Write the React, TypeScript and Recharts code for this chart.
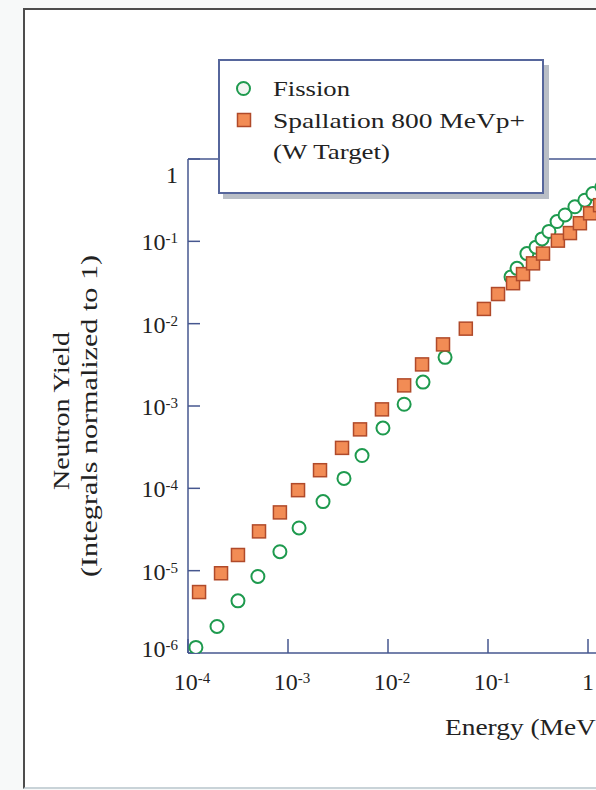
import { ScatterChart, Scatter, XAxis, YAxis } from 'recharts';

// values (energy in MeV, yield normalized)
const FISSION_E = [1.2e-4, 1.95e-4, 3.16e-4, 5.0e-4, 8.3e-4, 1.29e-3, 2.24e-3, 3.63e-3, 5.5e-3, 8.9e-3, 0.0145, 0.0224, 0.0372, 0.17, 0.195, 0.245, 0.302, 0.347, 0.407, 0.49, 0.59, 0.74, 0.93, 1.12, 1.38];
const FISSION_Y = [1.17e-6, 2.1e-6, 4.3e-6, 8.5e-6, 1.7e-5, 3.3e-5, 6.9e-5, 1.32e-4, 2.5e-4, 5.4e-4, 1.05e-3, 1.95e-3, 3.9e-3, 0.037, 0.047, 0.071, 0.085, 0.107, 0.132, 0.174, 0.209, 0.263, 0.316, 0.38, 0.457];
const SPALL_E = [1.29e-4, 2.14e-4, 3.16e-4, 5.13e-4, 8.3e-4, 1.26e-3, 2.09e-3, 3.47e-3, 5.25e-3, 8.7e-3, 0.0145, 0.0219, 0.0355, 0.06, 0.091, 0.126, 0.178, 0.224, 0.282, 0.355, 0.5, 0.66, 0.83, 1.05, 1.32];
const SPALL_Y = [5.5e-6, 9.3e-6, 1.55e-5, 3.0e-5, 5.1e-5, 9.5e-5, 1.66e-4, 3.1e-4, 5.2e-4, 9.1e-4, 1.78e-3, 3.2e-3, 5.6e-3, 8.7e-3, 0.0151, 0.0229, 0.031, 0.04, 0.054, 0.071, 0.102, 0.126, 0.166, 0.219, 0.275];

const X_TICKS = [1e-4, 1e-3, 1e-2, 1e-1, 1, 10, 100];
const Y_TICKS = [1e-6, 1e-5, 1e-4, 1e-3, 1e-2, 1e-1, 1];

const SERIES_NAMES = ['Fission', 'Spallation 800 MeVp+', '(W Target)'];
const X_TITLE = 'Energy (MeV)';
const Y_TITLE = ['Neutron Yield', '(Integrals normalized to 1)'];

const FONT = '"Liberation Serif", "Times New Roman", serif';
const AXIS = '#46578f';
const GREEN = '#1e9a4e';
const ORANGE = '#f28c55';
const ORANGE_EDGE = '#b04a2a';

const fission = FISSION_E.map((x, i) => ({ x, y: FISSION_Y[i] }));
const spallation = SPALL_E.map((x, i) => ({ x, y: SPALL_Y[i] }));

function YTick({ x, y, payload }: any) {
  const e = Math.round(Math.log10(payload.value));
  const dy = e === 0 ? 24 : e === -6 ? 4 : 9;
  return (
    <text x={x} y={y + dy} textAnchor="end" fontFamily={FONT} fontSize={24} fill="#222">
      {e === 0 ? '1' : (
        <>
          <tspan>10</tspan>
          <tspan fontSize={15} dy={-7}>{e}</tspan>
        </>
      )}
    </text>
  );
}

function XTick({ x, y, payload }: any) {
  const e = Math.round(Math.log10(payload.value));
  return (
    <text x={e === 0 ? x : x + 4} y={y + 16} textAnchor="middle" fontFamily={FONT} fontSize={24} fill="#222">
      {e === 0 ? '1' : (
        <>
          <tspan>10</tspan>
          <tspan fontSize={15} dy={-7}>{e}</tspan>
        </>
      )}
    </text>
  );
}

function YTitle({ viewBox }: any) {
  const cy = viewBox.y + viewBox.height / 2;
  const x1 = viewBox.x - 39;
  const x2 = viewBox.x - 11;
  return (
    <g fontFamily={FONT} fontSize={23.5} fill="#222">
      <text x={x1} y={cy + 5} transform={`rotate(-90, ${x1}, ${cy + 5})`} textAnchor="middle"
        textLength={158} lengthAdjust="spacingAndGlyphs">{Y_TITLE[0]}</text>
      <text x={x2} y={cy + 10} transform={`rotate(-90, ${x2}, ${cy + 10})`} textAnchor="middle"
        textLength={322} lengthAdjust="spacingAndGlyphs">{Y_TITLE[1]}</text>
    </g>
  );
}

function XTitle({ viewBox }: any) {
  return (
    <text x={viewBox.x + 257} y={viewBox.y + 82} fontFamily={FONT} fontSize={24} fill="#222"
      textLength={160} lengthAdjust="spacingAndGlyphs">{X_TITLE}</text>
  );
}

const circleShape = (p: any) => (
  <circle cx={p.cx} cy={p.cy} r={6.5} fill="#fff" stroke={GREEN} strokeWidth={2} />
);
const squareShape = (p: any) => (
  <rect x={p.cx - 6.5} y={p.cy - 6.5} width={13} height={13} fill={ORANGE} stroke={ORANGE_EDGE} strokeWidth={1.5} />
);

export default function App() {
  return (
    <div style={{ position: 'absolute', left: 0, top: 0, width: 596, height: 790, overflow: 'hidden', background: '#f7f9f9' }}>
      <div style={{
        position: 'absolute', left: 23, top: 8, width: 700, height: 777, background: '#fff',
        borderLeft: '2px solid #4d4d4d', borderTop: '2px solid #4d4d4d', borderBottom: '2px solid #c9d3d8',
      }} />
      <div style={{ position: 'absolute', left: 0, top: 0 }}>
        <ScatterChart width={900} height={790} margin={{ top: 149, right: 112, bottom: 77, left: 108 }}>
          <XAxis xAxisId="bottom" dataKey="x" type="number" scale="log" domain={[1e-4, 100]} ticks={X_TICKS}
            allowDataOverflow height={60} stroke={AXIS} strokeWidth={1.5} tickSize={-14} tickMargin={35}
            tick={<XTick />} label={{ content: (p: any) => <XTitle {...p} /> }} />
          <XAxis xAxisId="top" orientation="top" dataKey="x" type="number" scale="log" domain={[1e-4, 100]}
            ticks={X_TICKS} allowDataOverflow height={10} stroke={AXIS} strokeWidth={1.5} tickSize={-14} tick={false} />
          <YAxis dataKey="y" type="number" scale="log" domain={[1e-6, 1]} ticks={Y_TICKS} allowDataOverflow
            width={80} stroke={AXIS} strokeWidth={1.5} tickSize={-12} tickMargin={22}
            tick={<YTick />} label={{ content: (p: any) => <YTitle {...p} /> }} />
          <Scatter xAxisId="bottom" name={SERIES_NAMES[0]} data={fission} shape={circleShape} isAnimationActive={false} />
          <Scatter xAxisId="bottom" name={SERIES_NAMES[1]} data={spallation} shape={squareShape} isAnimationActive={false} />
        </ScatterChart>
      </div>
      <svg style={{ position: 'absolute', left: 0, top: 0 }} width={596} height={240}>
        <rect x={223} y={65} width={326} height={134} fill="#b9bec6" />
        <rect x={219} y={60} width={324} height={133} fill="#fff" stroke="#56669c" strokeWidth={2} />
        <circle cx={243.5} cy={88.5} r={6.5} fill="#f2f5f2" stroke={GREEN} strokeWidth={2} />
        <rect x={237.5} y={113.5} width={13} height={13} fill={ORANGE} stroke={ORANGE_EDGE} strokeWidth={1.5} />
        <g fontFamily={FONT} fontSize={22} fill="#222">
          <text x={273} y={96} textLength={77} lengthAdjust="spacingAndGlyphs">{SERIES_NAMES[0]}</text>
          <text x={273} y={128} textLength={252} lengthAdjust="spacingAndGlyphs">{SERIES_NAMES[1]}</text>
          <text x={273} y={159} textLength={117} lengthAdjust="spacingAndGlyphs">{SERIES_NAMES[2]}</text>
        </g>
      </svg>
    </div>
  );
}
